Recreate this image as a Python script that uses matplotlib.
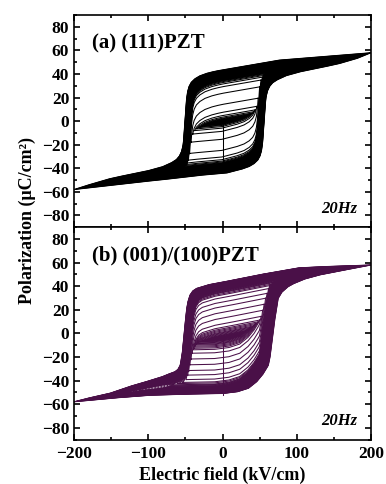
import numpy as np
import matplotlib
matplotlib.use("Agg")
from matplotlib import pyplot as plt
from matplotlib.ticker import MultipleLocator

plt.rcParams["font.family"] = ["Liberation Serif", "DejaVu Serif"]
plt.rcParams["font.weight"] = "bold"

# Outer (saturated) loop branches, kV/cm and uC/cm^2
# (a) (111)PZT
desc_E_a = [200, 150, 100, 77, 37, 0, -10, -20, -30, -37, -42, -45, -47, -48.5, -49.5, -50.5,
            -51.5, -53, -55, -58, -62, -68, -80, -98, -120, -150, -175, -200]
desc_P_a = [58, 55.5, 53, 51.8, 47.5, 43.5, 42.3, 40.8, 38.6, 36, 33, 29.5, 25, 18, 9, 0,
            -10, -20, -25.5, -29.5, -32.5, -35, -38.5, -41.7, -44.5, -48.5, -53, -58]
asc_E_a = [-200, -144.5, -94.5, -71.5, -31.5, 5.5, 15.5, 25.5, 35.5, 42.5, 47.5, 50.5, 52.5, 54, 55, 56,
           57, 58.5, 60.5, 63.5, 67.5, 73.5, 85.5, 103.5, 125.5, 155.5, 180.5, 200]
asc_P_a = [-58, -54, -50.5, -49, -46, -44, -42.3, -40.8, -38.6, -36, -33, -29.5, -25, -18, -9, 0,
           10, 20, 25.5, 29.5, 32.5, 35, 38.5, 41.7, 44.5, 48.5, 53, 58]

# (b) (001)/(100)PZT
desc_E_b = [200, 150, 104, 59.5, 14.5, -16.8, -34.8, -40, -43.8, -46.5, -48.2, -49.8, -51.4,
            -52.7, -54, -55.5, -57, -60, -64, -70.7, -80, -97.6, -120, -150, -175, -200]
desc_P_b = [58, 57, 55.7, 50.9, 45.2, 41.6, 38.2, 36, 32.5, 27, 21, 12, 1.4,
            -7, -15.6, -22, -27, -30.5, -32.5, -34, -36.5, -40, -44, -50.5, -54, -58]
asc_E_b = [-200, -150, -100, -50, 0, 20, 35, 46, 54, 58, 61.7, 64, 66, 68, 70, 72.5, 75,
           80, 88, 95, 110, 130, 150, 175, 200]
asc_P_b = [-58, -55, -52.5, -51.5, -51, -49.5, -46.5, -41, -35, -31, -27, -20, -10, 0, 10, 20, 29.7,
           35, 39.5, 42, 46, 49.5, 52, 55, 58]

# coercive-field spread between the outermost and the inner loops (left, right)
spread_a = (7, 7)
spread_b = (8, 12)

# amplitudes of the measured loops (kV/cm)
amps = np.arange(2, 201, 2)

# vertical segment at E = 0
virgin_a = [-37, -3]
virgin_b = [-52, -3]

colors = ["black", "#4a1048"]
titles = ["(a) (111)PZT", "(b) (001)/(100)PZT"]


def loop(A, dE, dP, aE, aP, spread):
    dEr, dPr = np.array(dE[::-1], float), np.array(dP[::-1], float)
    aE, aP = np.array(aE, float), np.array(aP, float)
    s = np.clip((200 - A) / 120, 0, 1)
    down = lambda e: np.interp(e - s * spread[0], dEr, dPr)
    up = lambda e: np.interp(e + s * spread[1], aE, aP)
    c = (up(A) - down(A)) / 2
    e = np.linspace(A, -A, 801)
    diff = (down(e) + c) - (up(e) - c)
    hit = np.where((diff <= 0) & (e < 0))[0]
    end = hit[0] if len(hit) else len(e) - 1
    e_d = e[:end + 1]
    e_u = e_d[::-1]
    return (np.concatenate([e_d, e_u]),
            np.concatenate([down(e_d) + c, up(e_u) - c]))


fig = plt.figure(figsize=(3.86, 4.84), dpi=100)
ax_a = fig.add_axes([0.1917, 0.5304, 0.7695, 0.4386])
ax_b = fig.add_axes([0.1917, 0.0919, 0.7695, 0.4385])

data = [(desc_E_a, desc_P_a, asc_E_a, asc_P_a, spread_a, virgin_a),
        (desc_E_b, desc_P_b, asc_E_b, asc_P_b, spread_b, virgin_b)]

for ax, (dE, dP, aE, aP, spread, virgin), col, title in zip([ax_a, ax_b], data, colors, titles):
    for A in amps:
        e, p = loop(A, dE, dP, aE, aP, spread)
        ax.plot(e, p, color=col, lw=0.75)
    ax.plot([0, 0], virgin, color=col, lw=0.75)

    ax.set_xlim(-200, 200)
    ax.set_ylim(-90, 90)
    ax.xaxis.set_major_locator(MultipleLocator(100))
    ax.xaxis.set_minor_locator(MultipleLocator(50))
    ax.yaxis.set_major_locator(MultipleLocator(20))
    ax.yaxis.set_minor_locator(MultipleLocator(10))
    ax.tick_params(which="both", direction="in", top=True, right=True, width=1.2, labelsize=12.5)
    ax.tick_params(axis="x", pad=5)
    ax.tick_params(which="major", length=4)
    ax.tick_params(which="minor", length=2.5)
    for s in ax.spines.values():
        s.set_linewidth(1.2)
    ax.text(0.06, 0.865, title, transform=ax.transAxes, fontsize=15, fontweight="bold", va="center")
    ax.text(0.955, 0.085, "20Hz", transform=ax.transAxes, fontsize=12, fontweight="bold",
            style="italic", ha="right", va="center")

ax_a.tick_params(labelbottom=False)
ax_b.set_xlabel("Electric field (kV/cm)", fontsize=13, fontweight="bold", labelpad=3)
fig.text(0.072, 0.545, "Polarization (μC/cm²)", rotation=90, fontsize=13, fontweight="bold",
         ha="center", va="center")

fig.savefig("out.png", dpi=100)
